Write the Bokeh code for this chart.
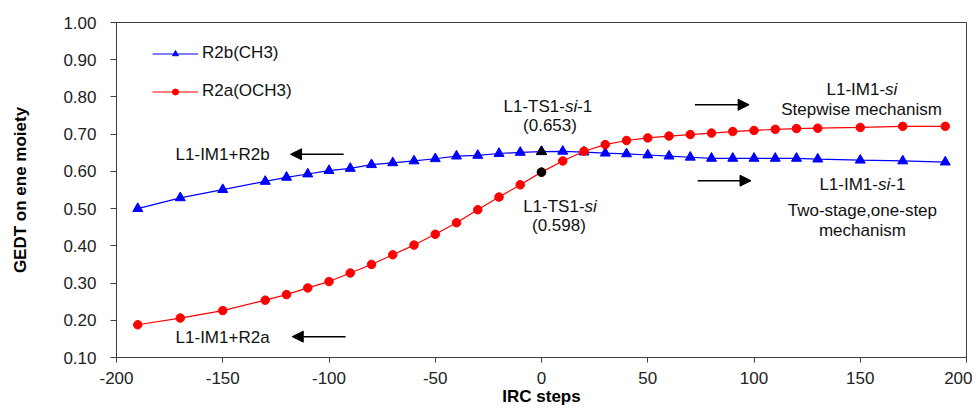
from bokeh.plotting import figure
from bokeh.models import (Range1d, FixedTicker, Label, Arrow, NormalHead, Legend,
                          LegendItem, PrintfTickFormatter)
from bokeh.embed import file_html
from bokeh.resources import INLINE

# ---------------- data ----------------
irc_steps = [-190, -170, -150, -130, -120, -110, -100, -90, -80, -70, -60, -50, -40,
             -30, -20, -10, 0, 10, 20, 30, 40, 50, 60, 70, 80, 90, 100, 110, 120,
             130, 150, 170, 190]
gedt_r2b_ch3 = [0.500, 0.529, 0.551, 0.573, 0.584, 0.593, 0.602, 0.608, 0.618, 0.623,
                0.628, 0.634, 0.641, 0.643, 0.648, 0.651, 0.653, 0.654, 0.652, 0.649,
                0.647, 0.644, 0.641, 0.638, 0.635, 0.635, 0.635, 0.635, 0.635, 0.633,
                0.630, 0.628, 0.625]
gedt_r2a_och3 = [0.188, 0.206, 0.226, 0.254, 0.269, 0.287, 0.304, 0.327, 0.350, 0.376,
                 0.402, 0.431, 0.462, 0.497, 0.531, 0.564, 0.598, 0.628, 0.654, 0.672,
                 0.683, 0.690, 0.695, 0.699, 0.703, 0.707, 0.710, 0.713, 0.715, 0.716,
                 0.718, 0.721, 0.721]
series_names = ["R2b(CH3)", "R2a(OCH3)"]
ts_step = 0
x_ticks = [-200, -150, -100, -50, 0, 50, 100, 150, 200]
y_ticks = [0.10, 0.20, 0.30, 0.40, 0.50, 0.60, 0.70, 0.80, 0.90, 1.00]
x_title = "IRC steps"
y_title = "GEDT on ene moiety"

# ---------------- style ----------------
FONT = "Liberation Sans"
FS = 17
AX = "#404040"

p = figure(width=972, height=410, output_backend="svg", toolbar_location=None,
           x_range=Range1d(-200, 200), y_range=Range1d(0.1, 1.0),
           min_border_left=116, min_border_right=6, min_border_top=22,
           min_border_bottom=53)
p.grid.visible = False
p.outline_line_color = AX
p.outline_line_width = 1
p.background_fill_color = "white"
p.border_fill_color = "white"

for ax in (p.xaxis[0], p.yaxis[0]):
    ax.axis_line_color = AX
    ax.major_tick_line_color = AX
    ax.minor_tick_line_color = None
    ax.major_tick_in = 0
    ax.major_tick_out = 6
    ax.major_label_text_font = FONT
    ax.major_label_text_font_size = f"{FS}px"
    ax.major_label_text_color = "#222222"
    ax.axis_label_text_font = FONT
    ax.axis_label_text_font_size = f"{FS}px"
    ax.axis_label_text_font_style = "bold"
    ax.axis_label_text_color = "black"

p.xaxis.ticker = FixedTicker(ticks=x_ticks)
p.yaxis.ticker = FixedTicker(ticks=[round(t, 2) for t in y_ticks])
p.xaxis.formatter = PrintfTickFormatter(format="%d")
p.yaxis.formatter = PrintfTickFormatter(format="%.2f")
p.xaxis.major_tick_out = 5
p.xaxis.major_label_standoff = 9
p.yaxis.major_label_standoff = 14
p.xaxis.axis_label = x_title
p.yaxis.axis_label = y_title
p.xaxis.axis_label_standoff = 0
p.yaxis.axis_label_standoff = 30

# series
l_b = p.line(irc_steps, gedt_r2b_ch3, line_color="#0000FF", line_width=1.2)
s_b = p.scatter(irc_steps, gedt_r2b_ch3, marker="triangle", size=10,
                fill_color="#0000FF", line_color="#0000FF")
l_r = p.line(irc_steps, gedt_r2a_och3, line_color="#FF0000", line_width=1.2)
s_r = p.scatter(irc_steps, gedt_r2a_och3, marker="circle", size=8.5,
                fill_color="#FF0000", line_color="#FF0000")

# transition states in black
i_ts = irc_steps.index(ts_step)
p.scatter([irc_steps[i_ts]], [gedt_r2b_ch3[i_ts]], marker="triangle", size=10,
          fill_color="black", line_color="black")
p.scatter([irc_steps[i_ts]], [gedt_r2a_och3[i_ts]], marker="circle", size=8.5,
          fill_color="black", line_color="black")

legend = Legend(items=[LegendItem(label=series_names[0], renderers=[l_b, s_b]),
                       LegendItem(label=series_names[1], renderers=[l_r, s_r])],
                location=(36, 256), orientation="vertical", padding=0, spacing=18,
                glyph_width=46, glyph_height=15, label_standoff=4, margin=0,
                label_text_font=FONT, label_text_font_size=f"{FS}px",
                label_text_color="#111111",
                border_line_color=None, background_fill_alpha=0)
p.add_layout(legend)

# ---------------- annotations ----------------
W = {"L": 556, "1": 556, "-": 333, "T": 611, "S": 667, "s": 500, "i": 222,
     "I": 278, "M": 833}


def tw(s):
    return sum(W.get(c, 556) for c in s) * FS / 1000.0


def mixed(x, y, parts):
    total = sum(tw(t) for t, _ in parts)
    off = -total / 2.0
    for t, style in parts:
        p.add_layout(Label(x=x, y=y, x_offset=off, text=t, text_align="left",
                           text_baseline="middle", text_font=FONT,
                           text_font_size=f"{FS}px", text_font_style=style,
                           text_color="#111111"))
        off += tw(t)


def plain(x, y, t, align="center"):
    p.add_layout(Label(x=x, y=y, text=t, text_align=align, text_baseline="middle",
                       text_font=FONT, text_font_size=f"{FS}px",
                       text_color="#111111"))


mixed(3, 0.775, [("L1-TS1-", "normal"), ("si", "italic"), ("-1", "normal")])
plain(4, 0.723, "(0.653)")
mixed(8.7, 0.505, [("L1-TS1-", "normal"), ("si", "italic")])
plain(8.2, 0.454, "(0.598)")
mixed(150.8, 0.819, [("L1-IM1-", "normal"), ("si", "italic")])
plain(150.6, 0.767, "Stepwise mechanism")
mixed(151, 0.565, [("L1-IM1-", "normal"), ("si", "italic"), ("-1", "normal")])
plain(151, 0.495, "Two-stage,one-step")
plain(151, 0.44, "mechanism")
plain(-172.2, 0.645, "L1-IM1+R2b", align="left")
plain(-172.2, 0.153, "L1-IM1+R2a", align="left")


def arrow(x0, y0, x1, y1):
    p.add_layout(Arrow(x_start=x0, y_start=y0, x_end=x1, y_end=y1,
                       line_color="black", line_width=1.5,
                       end=NormalHead(size=11, fill_color="black",
                                      line_color="black")))


arrow(-93.1, 0.646, -118.1, 0.646)
arrow(-92.2, 0.156, -117.3, 0.156)
arrow(72.2, 0.779, 97.7, 0.779)
arrow(73.5, 0.575, 98.6, 0.575)

open("out.html", "w").write(file_html(p, INLINE))
